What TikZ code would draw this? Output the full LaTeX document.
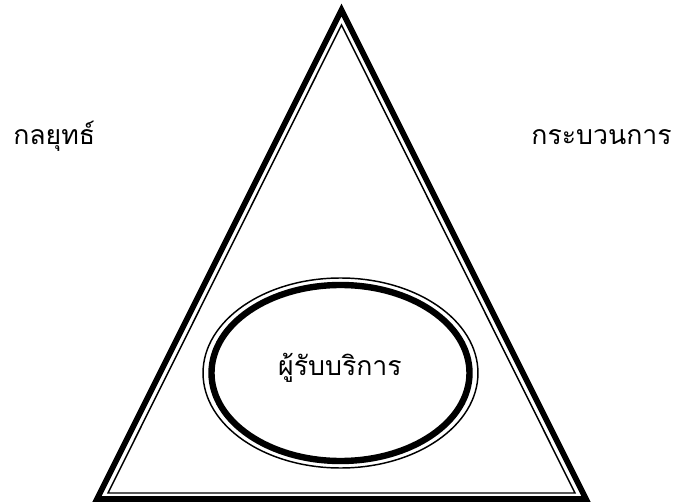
\documentclass[tikz,border=0pt]{standalone}
\usepackage{fontspec}
\newfontfamily\thaifont[Script=Thai]{Loma}
\usetikzlibrary{shapes.geometric}

\begin{document}
\begin{tikzpicture}[
  x=0.75pt, y=-0.75pt,
  font=\thaifont\fontsize{20}{24}\selectfont,
  outerline/.style={draw=black, line width=4.3pt, line join=miter},
  innerline/.style={draw=black, line width=1.1pt, line join=miter},
  lbl/.style={inner sep=0pt},
  hub/.style={draw=black, ellipse, line width=4.8pt, inner sep=0pt,
              minimum width=193.5pt, minimum height=132pt},
]
\useasboundingbox (0,0) rectangle (676,503);

% ---- triangle corners: outer (thick) and inner (thin) ----
\coordinate (top)    at (341.5,10);
\coordinate (bl)     at (97,499);
\coordinate (br)     at (586,499);
\coordinate (top-in) at (341.5,25);
\coordinate (bl-in)  at (108,493);
\coordinate (br-in)  at (575,493);

\draw[outerline] (top) -- (bl) -- (br) -- cycle;
\draw[innerline] (top-in) -- (bl-in) -- (br-in) -- cycle;

% ======================= centre =======================
\node[hub] (client) at (340.5,373) {};
\draw[innerline] (client.center) ellipse [x radius=103.1pt, y radius=71.25pt];
\node[lbl, anchor=base] (clientlbl) at (340,375) {ผู้รับบริการ};

% ======================= side labels =======================
\node[lbl, anchor=base west] (strategy) at (13,145) {กลยุทธ์};
\node[lbl, anchor=base east] (process)  at (672,145) {กระบวนการ};
\end{tikzpicture}
\end{document}
